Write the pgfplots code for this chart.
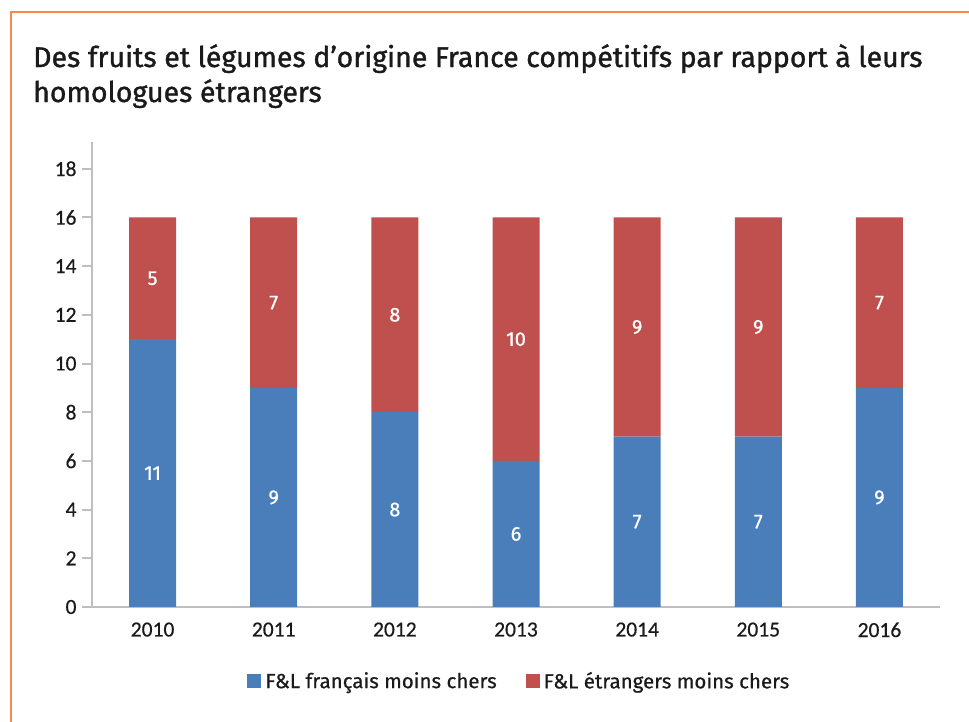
\documentclass[border=0pt]{standalone}
\usepackage{pgfplots}
\pgfplotsset{compat=1.18}
\usepackage{fontspec}
\setmainfont{Carlito}[RawFeature={embolden=0.5}]
\newfontfamily\dinfont{Fira Sans}[RawFeature={embolden=0.6}]
\newfontfamily\titlefont{Fira Sans}[RawFeature={embolden=1.2}]
\definecolor{fblue}{HTML}{4A7EBB}
\definecolor{fred}{HTML}{C0504D}
\definecolor{agray}{HTML}{BFBFBF}
\definecolor{orng}{HTML}{F58A4B}
\definecolor{txt}{HTML}{1A1A1A}
\begin{document}
\begin{tikzpicture}[x=1bp,y=1bp]
\useasboundingbox (0,0) rectangle (969,722);
\draw[orng, line width=2bp] (11,0) -- (11,710) -- (969,710);
\node[anchor=north west, align=left, inner sep=0pt, text=txt,
      font=\titlefont\fontsize{28.5bp}{35bp}\selectfont] at (33,678)
  {Des fruits et légumes d’origine France compétitifs par rapport à leurs\\homologues étrangers};
\begin{axis}[
  at={(92bp,115bp)}, anchor=south west,
  scale only axis, width=848bp, height=465bp,
  xmin=-0.5, xmax=6.5, ymin=0, ymax=19.1,
  ybar stacked, bar width=47bp,
  axis lines*=left,
  axis line style={agray, line width=2bp},
  ytick={0,2,...,18},
  xtick={0,...,6},
  xticklabels={2010,2011,2012,2013,2014,2015,2016},
  tick align=outside,
  major tick length=10bp,
  ytick style={agray, line width=2bp},
  xtick style={draw=none},
  /pgf/number format/assume math mode=true,
  tick label style={font=\fontsize{21.5bp}{25bp}\selectfont, text=txt},
  yticklabel style={xshift=-2bp},
  xticklabel style={yshift=-2bp},
  legend style={draw=none, at={(0.504,-0.159)}, anchor=center,
    font=\dinfont\fontsize{20.5bp}{24bp}\selectfont, text=txt,
    /tikz/every even column/.append style={column sep=27bp}},
  legend columns=2,
  legend image code/.code={\fill[#1] (0bp,-7bp) rectangle (14bp,7bp);},
]
\addplot[fill=fblue, draw=none] coordinates {(0,11) (1,9) (2,8) (3,6) (4,7) (5,7) (6,9)};
\addlegendentry{\hspace{2bp}F\&L français moins chers}
\addplot[fill=fred, draw=none] coordinates {(0,5) (1,7) (2,8) (3,10) (4,9) (5,9) (6,7)};
\addlegendentry{\hspace{2bp}F\&L étrangers moins chers}
\end{axis}
\begin{axis}[
  at={(92bp,115bp)}, anchor=south west,
  scale only axis, width=848bp, height=465bp,
  xmin=-0.5, xmax=6.5, ymin=0, ymax=19.1,
  hide axis,
  nodes near coords, point meta=explicit symbolic,
  every node near coord/.style={anchor=center, text=white,
    font=\dinfont\fontsize{20bp}{24bp}\selectfont},
]
\addplot[draw=none, mark=none] coordinates {
 (0,5.5)[11] (1,4.5)[9] (2,4)[8] (3,3)[6] (4,3.5)[7] (5,3.5)[7] (6,4.5)[9]
 (0,13.5)[5] (1,12.5)[7] (2,12)[8] (3,11)[10] (4,11.5)[9] (5,11.5)[9] (6,12.5)[7]};
\end{axis}
\end{tikzpicture}
\end{document}
